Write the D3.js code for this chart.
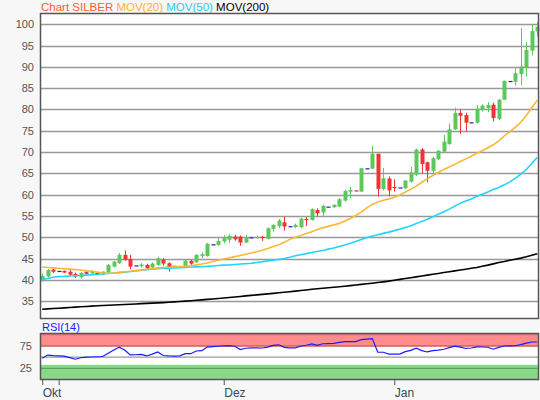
<!DOCTYPE html>
<html><head><meta charset="utf-8">
<script src="https://cdn.jsdelivr.net/npm/d3@7/dist/d3.min.js"></script>
<style>
body{margin:0;background:#f7f7f7;}
svg{display:block;font-family:"Liberation Sans",Arial,sans-serif;}
</style>
</head><body><svg id="c" width="540" height="400"></svg>
<script>
// ---- data ----
const opens  = [40.0,40.8,42.4,42.1,42.1,41.9,41.4,40.6,41.85,41.5,41.6,41.3,41.7,43.1,43.9,45.85,44.9,43.4,43.2,43.5,42.9,43.5,44.75,43.9,43.3,42.9,43.1,44.45,44.1,45.6,45.6,48.35,48.2,49.0,49.4,50.15,50.15,48.75,50.0,49.8,50.1,49.6,51.95,52.6,53.5,52.6,52.4,52.35,54.3,54.05,56.4,55.8,57.2,57.05,57.2,58.6,60.7,61.0,60.7,66.2,66.1,69.6,61.35,63.8,61.8,61.7,61.5,63.05,64.7,70.6,67.6,65.6,68.3,70.1,71.9,75.35,79.2,78.7,77.0,76.9,79.9,80.3,81.1,77.8,82.3,86.7,86.5,88.3,89.8,93.8,98.3];
const highs  = [41.5,42.5,42.6,42.1,42.2,42.4,41.7,41.8,42.2,42.3,41.7,42.0,43.7,44.45,46.3,46.9,45.85,43.4,43.9,43.8,44.1,45.4,45.1,44.1,43.3,43.3,44.6,44.7,46.0,46.4,48.7,48.35,49.8,50.5,50.7,50.6,50.4,50.6,50.0,50.4,50.3,52.3,53.05,54.3,54.85,52.6,53.2,54.6,54.7,56.8,56.8,57.6,57.2,57.7,59.2,61.2,61.9,61.0,66.2,66.2,71.4,69.6,66.3,64.3,63.6,61.7,63.4,66.6,70.8,70.9,67.75,68.9,70.5,74.0,76.7,80.4,80.0,79.25,77.0,81.0,81.2,81.7,81.6,82.5,86.8,86.7,89.7,99.1,95.8,100.0,100.4];
const lows   = [39.6,40.5,41.6,42.1,41.6,41.0,40.4,40.3,41.2,41.2,41.5,41.2,41.5,42.9,43.7,44.5,42.5,43.4,42.9,42.4,42.4,43.3,43.3,41.9,43.3,42.8,42.9,43.5,44.0,45.1,45.4,48.35,48.0,48.6,48.6,49.2,48.0,48.6,50.0,49.6,49.1,49.5,51.3,52.1,51.55,52.6,52.1,52.1,52.65,53.9,54.85,55.0,57.2,56.9,57.05,58.4,59.2,60.8,60.7,66.2,66.0,59.5,61.0,59.6,60.7,61.7,61.3,62.8,64.4,65.0,62.9,64.8,68.1,69.9,71.7,75.2,74.3,74.8,77.0,76.7,79.5,79.35,77.2,77.5,82.2,86.7,85.6,85.7,87.7,92.7,97.1];
const closes = [40.9,42.3,41.9,42.1,41.7,41.2,40.8,41.6,41.4,41.9,41.6,41.9,43.5,44.3,45.85,44.7,43.1,43.4,43.6,42.7,43.8,45.05,43.8,43.0,43.3,43.2,44.5,43.8,45.85,46.0,48.45,48.35,49.1,50.0,50.3,49.5,48.75,50.0,50.0,50.1,49.8,52.1,52.9,53.9,52.5,52.6,52.9,54.35,54.1,56.6,55.6,57.35,57.2,57.6,58.9,60.85,61.1,60.8,66.2,66.2,69.6,61.35,63.85,61.0,61.6,61.7,63.3,65.2,70.6,67.2,65.6,68.55,70.3,72.45,75.35,79.2,78.5,76.9,77.0,80.2,80.9,81.05,78.0,82.3,86.7,86.7,88.5,90.1,94.0,98.4,99.4];
const mov20  = [43.0,42.9,42.8,42.7,42.6,42.5,42.4,42.3,42.1,42.0,41.8,41.6,41.55,41.6,41.75,41.9,42.0,42.15,42.3,42.45,42.6,42.8,42.9,43.0,43.05,43.1,43.15,43.3,43.5,43.7,43.95,44.3,44.6,44.9,45.2,45.45,45.7,46.0,46.3,46.6,46.95,47.35,47.8,48.25,48.8,49.5,50.0,50.4,50.85,51.3,51.8,52.2,52.55,52.9,53.25,53.8,54.4,55.1,55.9,56.9,57.7,58.3,58.7,59.0,59.4,59.9,60.6,61.3,62.0,62.9,63.7,64.5,65.2,65.9,66.5,67.1,67.8,68.4,69.0,69.7,70.3,71.0,71.7,72.6,73.8,74.8,75.8,77.0,78.6,80.4,82.2];
const mov50  = [40.1,40.3,40.6,40.75,40.8,40.9,40.95,41.0,41.1,41.2,41.3,41.4,41.5,41.6,41.7,41.8,41.95,42.1,42.25,42.35,42.5,42.6,42.7,42.75,42.8,42.85,42.9,43.0,43.05,43.1,43.15,43.25,43.35,43.45,43.5,43.6,43.7,43.8,43.9,44.05,44.25,44.45,44.6,44.8,45.0,45.3,45.65,45.9,46.15,46.4,46.65,46.9,47.2,47.45,47.8,48.2,48.6,49.0,49.45,49.9,50.3,50.6,50.9,51.2,51.55,51.9,52.3,52.7,53.2,53.7,54.2,54.8,55.4,56.0,56.6,57.3,58.0,58.5,59.0,59.6,60.1,60.6,61.2,61.7,62.3,63.0,63.8,64.8,65.9,67.3,68.8];
const mov200 = [33.1,33.18,33.26,33.34,33.42,33.5,33.58,33.66,33.74,33.82,33.9,33.96,34.02,34.08,34.14,34.2,34.27,34.33,34.4,34.46,34.52,34.58,34.65,34.74,34.83,34.92,35.0,35.1,35.2,35.3,35.4,35.5,35.62,35.74,35.86,35.98,36.1,36.22,36.34,36.46,36.58,36.7,36.82,36.95,37.08,37.2,37.34,37.48,37.62,37.78,37.9,38.02,38.14,38.26,38.38,38.5,38.64,38.78,38.92,39.06,39.2,39.36,39.52,39.7,39.9,40.1,40.3,40.5,40.7,40.9,41.1,41.3,41.5,41.7,41.9,42.1,42.3,42.5,42.7,42.9,43.2,43.45,43.75,44.05,44.3,44.6,44.85,45.1,45.4,45.75,46.1];
const rsi14  = [47.8,54.7,53.5,53.0,52.5,49.0,45.5,48.8,50.0,50.5,51.0,51.6,59.0,66.0,72.3,66.0,55.0,55.5,56.3,52.8,57.0,61.6,53.8,52.8,52.5,53.0,58.0,57.8,63.8,64.5,72.5,73.5,74.5,75.5,76.0,74.5,67.0,70.0,70.8,70.8,70.5,72.5,76.5,77.7,72.0,70.8,70.8,74.5,76.6,79.5,76.3,80.0,80.4,80.8,83.0,84.6,84.6,84.8,89.2,90.5,91.5,61.5,61.0,57.0,56.9,57.0,62.5,65.2,70.0,64.7,61.7,64.6,66.0,67.7,71.5,74.8,72.6,69.5,70.5,73.2,72.8,72.2,67.8,72.0,75.0,75.2,75.5,78.0,81.5,83.9,83.9];
const priceTicks = [35,40,45,50,55,60,65,70,75,80,85,90,95,100];
const rsiTicks = [25,75];
const monthTickIdx = [0,3,33,64];
const monthLabels = ["Okt","","Dez","Jan"];
const legendItems = ["Chart SILBER","MOV(20)","MOV(50)","MOV(200)"];
const legendColors = ["#ff5a36","#ffb22e","#1ecbf5","#000000"];

// ---- layout ----
const L = 40, R = 539, T = 13, B = 319;
const RT = 333, RB = 380;
const svg = d3.select("#c");
svg.append("rect").attr("width",540).attr("height",400).attr("fill","#f7f7f7");

const idx = d3.range(opens.length);
const x = d3.scaleLinear().domain([0, 90]).range([42.2, 537.3]);
const y = d3.scaleLinear().domain([30.8, 102.65]).range([B, T]);
const yr = d3.scaleLinear().domain([0, 100]).range([379.6, 334.8]);

// main panel
svg.append("rect").attr("x",L).attr("y",T).attr("width",R-L).attr("height",B-T).attr("fill","#fff");
const gGrid = svg.append("g");
gGrid.selectAll("line").data(priceTicks).join("line")
  .attr("x1",L).attr("x2",R).attr("y1",d=>Math.round(y(d))+0.5).attr("y2",d=>Math.round(y(d))+0.5)
  .attr("stroke","#999").attr("stroke-width",1.5);

const yAxis = d3.axisLeft(y).tickValues(priceTicks).tickSize(0).tickPadding(6);
const gy = svg.append("g").attr("transform",`translate(${L},0)`).call(yAxis);
gy.select(".domain").remove();
gy.selectAll("text").attr("font-size",11).attr("fill","#555").attr("font-family","Liberation Sans, Arial, sans-serif");

// candles
const up = "#5cc85c", down = "#f03434", flat = "#3a10c8";
const colorOf = i => closes[i] > opens[i] ? up : (closes[i] < opens[i] ? down : flat);
const gC = svg.append("g");
gC.selectAll("line.w").data(idx.filter(i=>highs[i]!==lows[i])).join("line").attr("class","w")
  .attr("x1",i=>Math.round(x(i))+0.5).attr("x2",i=>Math.round(x(i))+0.5)
  .attr("y1",i=>y(highs[i])).attr("y2",i=>y(lows[i]))
  .attr("stroke",colorOf).attr("stroke-width",1);
gC.selectAll("rect").data(idx).join("rect")
  .attr("x",i=>Math.round(x(i))-1.5).attr("width",4)
  .attr("y",i=>Math.min(y(opens[i]),y(closes[i])))
  .attr("height",i=>Math.max(1.2, Math.abs(y(opens[i])-y(closes[i]))))
  .attr("fill",colorOf);

// moving averages
const line = arr => d3.line().x(i=>x(i)).y(i=>y(arr[i]))(idx);
svg.append("path").attr("d",line(mov200)).attr("fill","none").attr("stroke","#000").attr("stroke-width",1.6);
svg.append("path").attr("d",line(mov50)).attr("fill","none").attr("stroke","#22d4ff").attr("stroke-width",1.6);
svg.append("path").attr("d",line(mov20)).attr("fill","none").attr("stroke","#ffb733").attr("stroke-width",1.6);

svg.append("rect").attr("x",L+0.5).attr("y",T+0.5).attr("width",R-L-1).attr("height",B-T-1)
  .attr("fill","none").attr("stroke","#555").attr("stroke-width",1.5);

// legend
const leg = svg.append("text").attr("x",41).attr("y",11).attr("font-size",11.5);
legendItems.forEach((t,k)=>{
  leg.append("tspan").text((k?" ":"")+t).attr("fill",legendColors[k]);
});

// RSI panel
svg.append("rect").attr("x",L).attr("y",RT).attr("width",R-L).attr("height",RB-RT).attr("fill","#fff");
svg.append("rect").attr("x",L).attr("y",RT).attr("width",R-L).attr("height",yr(75)-RT).attr("fill","#ff8c8c");
svg.append("rect").attr("x",L).attr("y",yr(33)).attr("width",R-L).attr("height",RB-yr(33)).attr("fill","#8ad88a");
svg.append("line").attr("x1",L).attr("x2",R).attr("y1",yr(100)).attr("y2",yr(100)).attr("stroke","#e06868").attr("stroke-width",1);
svg.append("line").attr("x1",L).attr("x2",R).attr("y1",yr(75)).attr("y2",yr(75)).attr("stroke","#d85a5a").attr("stroke-width",1.3);
svg.append("line").attr("x1",L).attr("x2",R).attr("y1",yr(50)).attr("y2",yr(50)).attr("stroke","#999").attr("stroke-width",1.3);
svg.append("line").attr("x1",L).attr("x2",R).attr("y1",yr(25)).attr("y2",yr(25)).attr("stroke","#55aa55").attr("stroke-width",1.3);
const ry = d3.axisLeft(yr).tickValues(rsiTicks).tickSize(0).tickPadding(8);
const gry = svg.append("g").attr("transform",`translate(${L},0)`).call(ry);
gry.select(".domain").remove();
gry.selectAll("text").attr("font-size",11).attr("fill","#555").attr("font-family","Liberation Sans, Arial, sans-serif");
svg.append("path").attr("d",d3.line().x(i=>x(i)).y(i=>yr(rsi14[i]))(idx)).attr("fill","none").attr("stroke","#1a1aff").attr("stroke-width",1.2);
svg.append("rect").attr("x",L+0.5).attr("y",RT+0.5).attr("width",R-L-1).attr("height",RB-RT-1)
  .attr("fill","none").attr("stroke","#555").attr("stroke-width",1.5);
svg.append("text").attr("x",42).attr("y",331).attr("font-size",11).attr("fill","#1a1aff").text("RSI(14)");

// x axis (month ticks)
const gx = svg.append("g").attr("transform",`translate(0,${RB})`)
  .call(d3.axisBottom(x).tickValues(monthTickIdx).tickFormat((d,k)=>monthLabels[k]).tickSize(5).tickPadding(3));
gx.select(".domain").remove();
gx.selectAll("line").attr("stroke","#555");
gx.selectAll("text").attr("text-anchor","start").attr("font-size",12).attr("fill","#34475a")
  .attr("font-family","Liberation Sans, Arial, sans-serif");
</script></body></html>
